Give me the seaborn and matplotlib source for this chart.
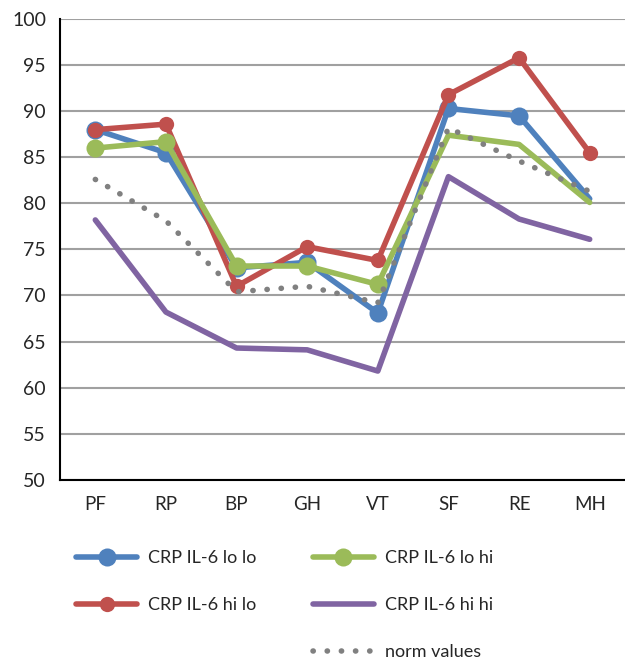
import numpy as np
import pandas as pd
import matplotlib
matplotlib.use("Agg")
import matplotlib.pyplot as plt
import seaborn as sns
from matplotlib.lines import Line2D

categories = ["PF", "RP", "BP", "GH", "VT", "SF", "RE", "MH"]
lo_lo = [88.0, 85.5, 73.0, 73.6, 68.1, 90.3, 89.5, 80.5]
hi_lo = [88.0, 88.6, 71.0, 75.3, 73.8, 91.8, 95.8, 85.5]
lo_hi = [86.0, 86.7, 73.2, 73.2, 71.2, 87.4, 86.4, 80.1]
hi_hi = [78.2, 68.2, 64.3, 64.1, 61.8, 82.9, 78.3, 76.1]
norm = [82.6, 78.1, 70.4, 71.0, 69.2, 88.2, 84.6, 81.3]
yticks = [50, 55, 60, 65, 70, 75, 80, 85, 90, 95, 100]

sns.set_theme(style="white")
plt.rcParams['font.family'] = ['Lato', 'DejaVu Sans']

fig = plt.figure(figsize=(6.25, 6.59), dpi=100)
ax = fig.add_axes([0.096, 0.272, 0.904, 0.699])

x = np.arange(len(categories))
blue, red, green, purple, gray = "#4F81BD", "#C0504D", "#9BBB59", "#8064A2", "#808080"
dots = (0, (0.05, 2.5))

sns.lineplot(x=x, y=lo_lo, ax=ax, color=blue, linewidth=4, marker="o", markersize=13,
             markeredgewidth=0, markevery=list(range(7)), zorder=3)
sns.lineplot(x=x, y=hi_lo, ax=ax, color=red, linewidth=4, marker="o", markersize=11,
             markeredgewidth=0, zorder=4)
sns.lineplot(x=x, y=lo_hi, ax=ax, color=green, linewidth=4, marker="o", markersize=13,
             markeredgewidth=0, markevery=list(range(5)), zorder=5)
sns.lineplot(x=x, y=hi_hi, ax=ax, color=purple, linewidth=4, zorder=6)
sns.lineplot(x=x, y=norm, ax=ax, color=gray, linewidth=4, linestyle=dots,
             dash_capstyle="round", zorder=7)

ax.set_xlim(-0.5, len(categories) - 0.5)
ax.set_ylim(50, 100)
ax.set_yticks(yticks)
ax.set_yticklabels([str(v) for v in yticks], fontsize=14)
ax.set_xticks(x)
ax.set_xticklabels(categories, fontsize=13.5)
ax.set_xticks(np.arange(-0.5, len(categories), 1.0), minor=True)
ax.tick_params(axis="x", which="major", length=0, pad=12)
ax.tick_params(axis="x", which="minor", length=7, width=1.5, color="black", direction="out")
ax.tick_params(axis="y", which="major", length=7, width=1.5, color="black", direction="out", pad=3)
ax.yaxis.grid(True, color="#A0A0A0", linewidth=1.5)
ax.xaxis.grid(False)
ax.set_axisbelow(True)
for s in ["top", "right"]:
    ax.spines[s].set_visible(False)
for s in ["left", "bottom"]:
    ax.spines[s].set_color("black")
    ax.spines[s].set_linewidth(1.5)
ax.set_xlabel("")
ax.set_ylabel("")

h_lolo = Line2D([], [], color=blue, linewidth=4, marker="o", markersize=13, markeredgewidth=0)
h_hilo = Line2D([], [], color=red, linewidth=4, marker="o", markersize=11, markeredgewidth=0)
h_lohi = Line2D([], [], color=green, linewidth=4, marker="o", markersize=13, markeredgewidth=0)
h_hihi = Line2D([], [], color=purple, linewidth=4)
h_norm = Line2D([], [], color=gray, linewidth=4, linestyle=dots, dash_capstyle="round")
h_blank = Line2D([], [], color="none")
leg = fig.legend([h_lolo, h_hilo, h_blank, h_lohi, h_hihi, h_norm],
                 ["CRP IL-6 lo lo", "CRP IL-6 hi lo", "", "CRP IL-6 lo hi", "CRP IL-6 hi hi", "norm values"],
                 ncol=2, loc="upper left", bbox_to_anchor=(0.1216, 0.165), frameon=False,
                 fontsize=13, handlelength=3.4, handletextpad=0.6, columnspacing=3.1,
                 labelspacing=1.72, borderaxespad=0, borderpad=0)

fig.savefig("out.png", dpi=100)
